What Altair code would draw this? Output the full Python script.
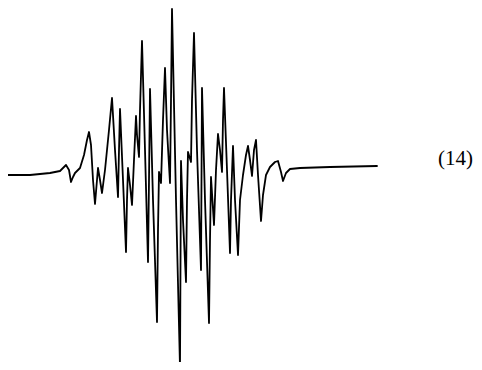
import altair as alt
import pandas as pd

# Spectrum trace (arbitrary field units vs. derivative signal)
field = [7, 30, 50, 60, 63, 66, 69, 71, 73, 75, 80, 84, 87, 89, 91, 93, 95, 97, 98, 100,
         102, 105, 109, 112, 115, 118, 119, 120, 123, 126, 127, 128, 130, 132, 134, 136, 137, 139, 140, 142,
         145, 148, 149, 150, 153, 157, 158, 159, 161, 163, 165, 167, 170, 171, 172, 176, 180, 181, 183, 186,
         187, 188, 191, 192, 194, 197, 201, 202, 205, 209, 210, 211, 214, 216, 218, 220, 222, 223, 224, 227,
         230, 231, 233, 235, 238, 240, 243, 246, 248, 250, 252, 254, 256, 258, 261, 263, 266, 270, 275, 278,
         281, 283, 286, 290, 300, 330, 377]
signal = [-5, -5, -3, -1, 2, 5, 0, -12, -7, -3, 2, 15, 30, 38, 25, -10, -34, -10, 2, -10,
          -23, 0, 40, 72, 20, -27, 20, 61, -10, -82, -30, 2, -15, -35, 10, 54, 35, 13, 60, 129,
          20, -92, -10, 81, -30, -152, -60, -2, -13, 50, 102, 40, -13, 70, 161, -30, -197, 9, -50, -112,
          -30, 18, 8, 70, 137, 20, -100, 82, -30, -153, -70, -7, -55, 0, 36, 20, -2, 50, 82, 0,
          -83, -30, 24, -30, -85, -30, -5, 15, 24, 10, -6, 20, 30, -5, -51, -25, -5, 3, 8, 9,
          -2, -11, -3, 1, 2, 3, 4]
label = ["(14)"]

df = pd.DataFrame({"field": field, "signal": signal})

line = alt.Chart(df).mark_line(
    color="black", strokeWidth=1.8, interpolate="linear", strokeJoin="round", strokeCap="round"
).encode(
    x=alt.X("field:Q", scale=alt.Scale(domain=[8, 474], nice=False, zero=False), axis=None),
    y=alt.Y("signal:Q", scale=alt.Scale(domain=[-192, 162], nice=False, zero=False), axis=None),
)

text = alt.Chart(pd.DataFrame({"label": label})).mark_text(
    font="Liberation Serif", fontSize=21, color="black", align="right", baseline="middle"
).encode(
    text="label:N",
    x=alt.value(465),
    y=alt.value(151),
)

chart = alt.layer(line, text).properties(
    width=466, height=354, padding=0, autosize=alt.AutoSizeParams(type="none")
).configure_view(stroke=None)

chart.save("out.html", embed_options={"renderer": "svg", "actions": False})
